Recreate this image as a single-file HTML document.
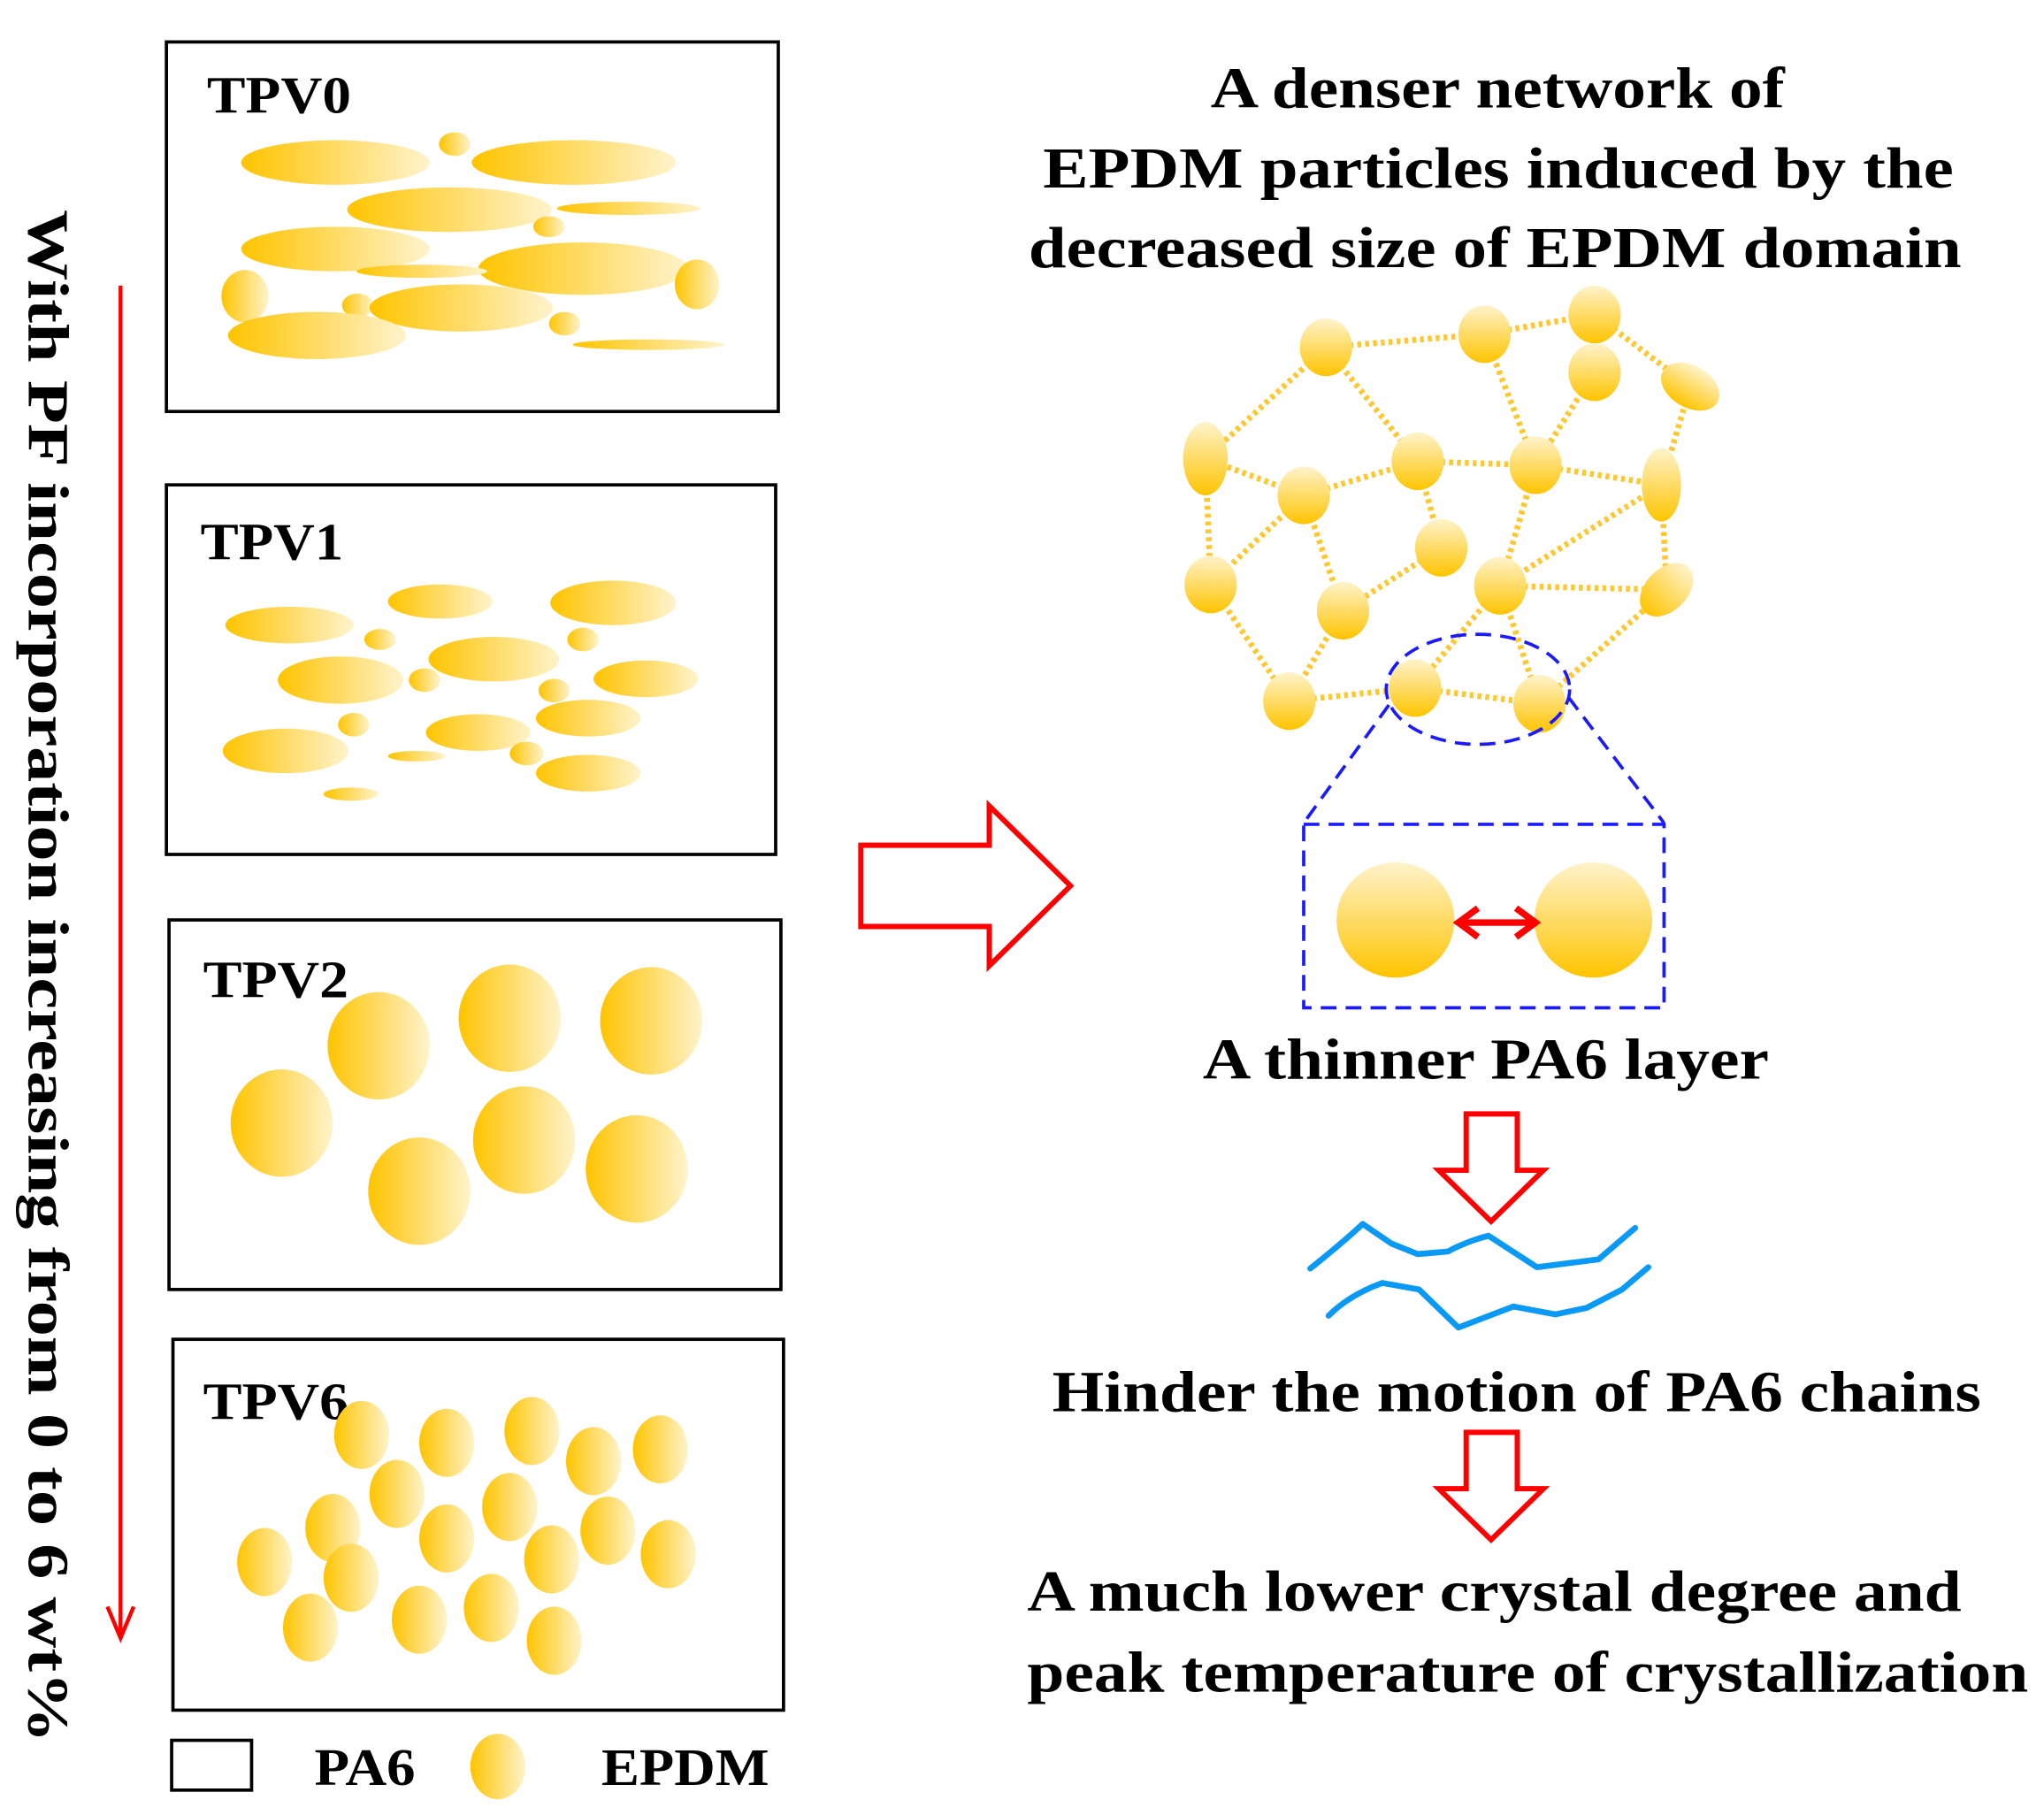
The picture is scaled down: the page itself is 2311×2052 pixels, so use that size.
<!DOCTYPE html>
<html><head><meta charset="utf-8"><style>html,body{margin:0;padding:0;background:#fff}svg{display:block}text{font-family:"Liberation Serif","Times New Roman",serif;font-weight:bold}</style></head>
<body>
<svg width="2311" height="2052" viewBox="0 0 1560 1385" preserveAspectRatio="none" xmlns="http://www.w3.org/2000/svg">
<defs>
<linearGradient id="h" x1="0" x2="1" y1="0" y2="0"><stop offset="0" stop-color="#ffc400"/><stop offset="1" stop-color="#fff3cc"/></linearGradient>
<linearGradient id="v" x1="0" x2="0" y1="1" y2="0"><stop offset="0" stop-color="#ffc400"/><stop offset="1" stop-color="#fff3cc"/></linearGradient>
</defs>
<rect x="0" y="0" width="1560" height="1385" fill="#fff"/>
<text transform="translate(22,160) rotate(90)" font-size="44" textLength="1170" lengthAdjust="spacingAndGlyphs">With PF incorporation increasing from 0 to 6 wt%</text>
<line x1="92" y1="218" x2="92" y2="1247" stroke="#f00" stroke-width="3"/>
<polyline points="82,1226 92,1250 102,1226" fill="none" stroke="#f00" stroke-width="3"/>
<g fill="none" stroke="#000" stroke-width="2.5">
<rect x="127" y="32" width="467" height="282"/>
<rect x="127" y="370" width="465" height="282"/>
<rect x="129" y="702" width="467" height="282"/>
<rect x="132" y="1022" width="466" height="283"/>
<rect x="131" y="1328" width="61" height="38"/>
</g>
<g font-size="40">
<text x="158" y="86" textLength="110" lengthAdjust="spacingAndGlyphs">TPV0</text>
<text x="153" y="427" textLength="109" lengthAdjust="spacingAndGlyphs">TPV1</text>
<text x="155" y="761" textLength="111" lengthAdjust="spacingAndGlyphs">TPV2</text>
<text x="155" y="1083" textLength="111" lengthAdjust="spacingAndGlyphs">TPV6</text>
<text x="240" y="1362" textLength="77" lengthAdjust="spacingAndGlyphs">PA6</text>
<text x="459" y="1362" textLength="128" lengthAdjust="spacingAndGlyphs">EPDM</text>
</g>
<ellipse cx="380" cy="1348" rx="21" ry="25" fill="url(#h)"/>
<g fill="url(#h)">
<ellipse cx="256" cy="124" rx="72" ry="17"/><ellipse cx="347" cy="110" rx="12" ry="9"/>
<ellipse cx="438" cy="124" rx="78" ry="17"/><ellipse cx="343" cy="160" rx="78" ry="17"/>
<ellipse cx="480" cy="159" rx="55" ry="5"/><ellipse cx="419" cy="173" rx="12" ry="8"/>
<ellipse cx="256" cy="190" rx="72" ry="17"/><ellipse cx="445" cy="205" rx="80" ry="20"/>
<ellipse cx="322" cy="207" rx="50" ry="5"/><ellipse cx="187" cy="226" rx="18" ry="20"/>
<ellipse cx="532" cy="217" rx="17" ry="19"/><ellipse cx="273" cy="233" rx="12" ry="9"/>
<ellipse cx="352" cy="235" rx="70" ry="18"/><ellipse cx="431" cy="247" rx="12" ry="9"/>
<ellipse cx="242" cy="256" rx="68" ry="18"/><ellipse cx="495" cy="263" rx="58" ry="4"/>
<ellipse cx="221" cy="477" rx="49" ry="14"/><ellipse cx="290" cy="488" rx="12" ry="8"/>
<ellipse cx="336" cy="459" rx="40" ry="13"/><ellipse cx="468" cy="460" rx="48" ry="17"/>
<ellipse cx="445" cy="488" rx="12" ry="9"/><ellipse cx="260" cy="519" rx="48" ry="18"/>
<ellipse cx="377" cy="503" rx="50" ry="17"/><ellipse cx="324" cy="519" rx="12" ry="9"/>
<ellipse cx="493" cy="518" rx="40" ry="14"/><ellipse cx="423" cy="527" rx="12" ry="9"/>
<ellipse cx="449" cy="548" rx="40" ry="14"/><ellipse cx="270" cy="553" rx="12" ry="9"/>
<ellipse cx="365" cy="559" rx="40" ry="14"/><ellipse cx="218" cy="573" rx="48" ry="17"/>
<ellipse cx="318" cy="577" rx="22" ry="4"/><ellipse cx="402" cy="575" rx="13" ry="9"/>
<ellipse cx="449" cy="590" rx="40" ry="14"/><ellipse cx="268" cy="606" rx="21" ry="5"/>
<ellipse cx="215" cy="857" rx="39" ry="41"/><ellipse cx="289" cy="798" rx="39" ry="41"/>
<ellipse cx="389" cy="777" rx="39" ry="41"/><ellipse cx="497" cy="779" rx="39" ry="41"/>
<ellipse cx="400" cy="870" rx="39" ry="41"/><ellipse cx="320" cy="909" rx="39" ry="41"/>
<ellipse cx="486" cy="892" rx="39" ry="41"/>
<ellipse cx="276" cy="1095" rx="21" ry="26"/><ellipse cx="341" cy="1101" rx="21" ry="26"/>
<ellipse cx="406" cy="1092" rx="21" ry="26"/><ellipse cx="453" cy="1115" rx="21" ry="26"/>
<ellipse cx="504" cy="1106" rx="21" ry="26"/><ellipse cx="303" cy="1140" rx="21" ry="26"/>
<ellipse cx="389" cy="1150" rx="21" ry="26"/><ellipse cx="254" cy="1166" rx="21" ry="26"/>
<ellipse cx="341" cy="1174" rx="21" ry="26"/><ellipse cx="464" cy="1168" rx="21" ry="26"/>
<ellipse cx="202" cy="1192" rx="21" ry="26"/><ellipse cx="268" cy="1204" rx="21" ry="26"/>
<ellipse cx="421" cy="1190" rx="21" ry="26"/><ellipse cx="510" cy="1186" rx="21" ry="26"/>
<ellipse cx="237" cy="1242" rx="21" ry="26"/><ellipse cx="320" cy="1236" rx="21" ry="26"/>
<ellipse cx="375" cy="1227" rx="21" ry="26"/><ellipse cx="423" cy="1252" rx="21" ry="26"/>
</g>
<polygon points="657,645 755,645 755,615 817,676 755,737 755,707 657,707" fill="none" stroke="#f00" stroke-width="4"/>
<g font-size="44">
<text x="924" y="82" textLength="438" lengthAdjust="spacingAndGlyphs">A denser network of</text>
<text x="796" y="143" textLength="695" lengthAdjust="spacingAndGlyphs">EPDM particles  induced by the</text>
<text x="785" y="204" textLength="712" lengthAdjust="spacingAndGlyphs">decreased  size of EPDM domain</text>
<text x="918" y="823" textLength="432" lengthAdjust="spacingAndGlyphs">A thinner PA6 layer</text>
<text x="803" y="1077" textLength="709" lengthAdjust="spacingAndGlyphs">Hinder the motion of PA6 chains</text>
<text x="784" y="1229" textLength="713" lengthAdjust="spacingAndGlyphs">A much lower crystal degree and</text>
<text x="784" y="1291" textLength="764" lengthAdjust="spacingAndGlyphs">peak temperature of crystallization</text>
</g>
<g stroke="#ffc830" stroke-width="4.5" stroke-dasharray="3,3" fill="none">
<path d="M1012,265L1133,255M1133,255L1217,240M1217,240L1290,295M1012,265L920,350M1012,265L1082,352M1133,255L1172,355M1217,284L1172,355M1290,295L1268,370M920,350L995,378M995,378L1082,352M1082,352L1172,355M1172,355L1268,370M1082,352L1100,418M920,350L924,446M995,378L924,446M995,378L1025,466M1100,418L1025,466M1172,355L1145,447M1268,370L1145,447M1268,370L1272,450M1145,447L1272,450M924,446L984,535M1025,466L984,535M984,535L1080,525M1080,525L1175,537M1145,447L1080,525M1145,447L1175,537M1272,450L1175,537"/>
</g>
<g fill="url(#v)">
<ellipse cx="1012" cy="265" rx="20" ry="22"/><ellipse cx="1133" cy="255" rx="20" ry="22"/>
<ellipse cx="1217" cy="240" rx="20" ry="22"/><ellipse cx="1217" cy="284" rx="20" ry="22"/>
<ellipse cx="1290" cy="295" rx="24" ry="16" transform="rotate(30 1290 295)"/>
<ellipse cx="920" cy="350" rx="17" ry="28"/><ellipse cx="995" cy="378" rx="20" ry="22"/>
<ellipse cx="1082" cy="352" rx="20" ry="22"/><ellipse cx="1172" cy="355" rx="20" ry="22"/>
<ellipse cx="1268" cy="370" rx="15" ry="28"/><ellipse cx="1100" cy="418" rx="20" ry="22"/>
<ellipse cx="924" cy="446" rx="20" ry="22"/><ellipse cx="1025" cy="466" rx="20" ry="22"/>
<ellipse cx="1145" cy="447" rx="20" ry="22"/>
<ellipse cx="1272" cy="450" rx="16" ry="24" transform="rotate(45 1272 450)"/>
<ellipse cx="984" cy="535" rx="20" ry="22"/><ellipse cx="1080" cy="525" rx="20" ry="22"/>
<ellipse cx="1175" cy="537" rx="20" ry="22"/>
</g>
<g fill="none" stroke="#1a1aff" stroke-width="2.5" stroke-dasharray="12,7">
<ellipse cx="1128" cy="526" rx="70" ry="42"/>
<line x1="1060" y1="538" x2="995" y2="628"/>
<line x1="1197" y1="532" x2="1270" y2="628"/>
<rect x="995" y="629" width="275" height="140"/>
</g>
<ellipse cx="1065" cy="702" rx="45" ry="44" fill="url(#v)"/>
<ellipse cx="1216" cy="702" rx="45" ry="44" fill="url(#v)"/>
<g stroke="#f00" stroke-width="5" fill="none">
<line x1="1113" y1="704" x2="1172" y2="704"/>
<polyline points="1128,693 1113,704 1128,715"/>
<polyline points="1157,693 1172,704 1157,715"/>
</g>
<polygon points="1119,850 1158,850 1158,893 1178,893 1138,932 1098,893 1119,893" fill="none" stroke="#f00" stroke-width="4"/>
<polygon points="1119,1093 1158,1093 1158,1136 1178,1136 1138,1175 1098,1136 1119,1136" fill="none" stroke="#f00" stroke-width="4"/>
<g fill="none" stroke="#0a9af5" stroke-width="4.5" stroke-linecap="round" stroke-linejoin="round">
<path d="M1000,968 Q1025,948 1040,934 L1062,949 L1082,957 L1105,955 Q1120,947 1136,943 L1173,967 L1220,961 L1248,937"/>
<path d="M1014,1004 Q1030,988 1055,979 L1083,984 L1113,1013 L1155,997 L1187,1003 L1211,998 L1238,984 L1258,967"/>
</g>
</svg>
</body></html>
